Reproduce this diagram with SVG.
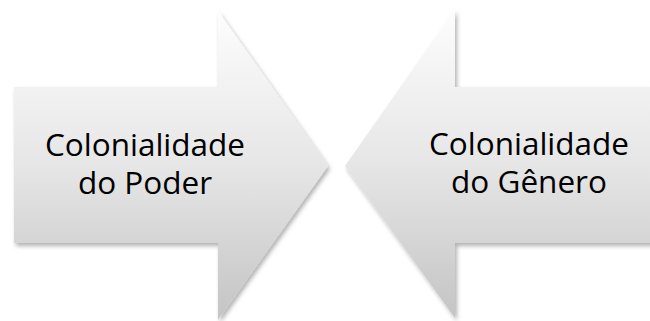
<svg xmlns="http://www.w3.org/2000/svg" width="650" height="321" viewBox="0 0 650 321">
  <defs>
    <linearGradient id="fillGrad" x1="0" y1="0" x2="0" y2="1">
      <stop offset="0" stop-color="#fdfdfd"/>
      <stop offset="0.5" stop-color="#e6e6e6"/>
      <stop offset="1" stop-color="#c4c4c4"/>
    </linearGradient>
    <filter id="shadow" x="-10%" y="-10%" width="120%" height="120%">
      <feDropShadow dx="2" dy="3" stdDeviation="2" flood-color="#000" flood-opacity="0.3"/>
    </filter>
  </defs>
  <style>
    .arrow { fill: url(#fillGrad); filter: url(#shadow); }
    .label { font-family: "Open Sans", "Liberation Sans", sans-serif; font-size: 31.5px; fill: #000; text-anchor: middle; }
  </style>
  <rect width="650" height="321" fill="#fff"/>

  <g id="poder">
    <path class="arrow" d="M14,87 L218,87 L218,11 L328,166 L218,320 L218,243 L14,243 Z"/>
    <text class="label" x="145" y="156">Colonialidade</text>
    <text class="label" x="145" y="194">do Poder</text>
  </g>

  <g id="genero">
    <path class="arrow" d="M656,87 L455,87 L455,9 L345,166 L455,318 L455,243 L656,243 Z"/>
    <text class="label" x="529" y="155">Colonialidade</text>
    <text class="label" x="529" y="193">do Gênero</text>
  </g>

  <g id="connectors"/>
</svg>
